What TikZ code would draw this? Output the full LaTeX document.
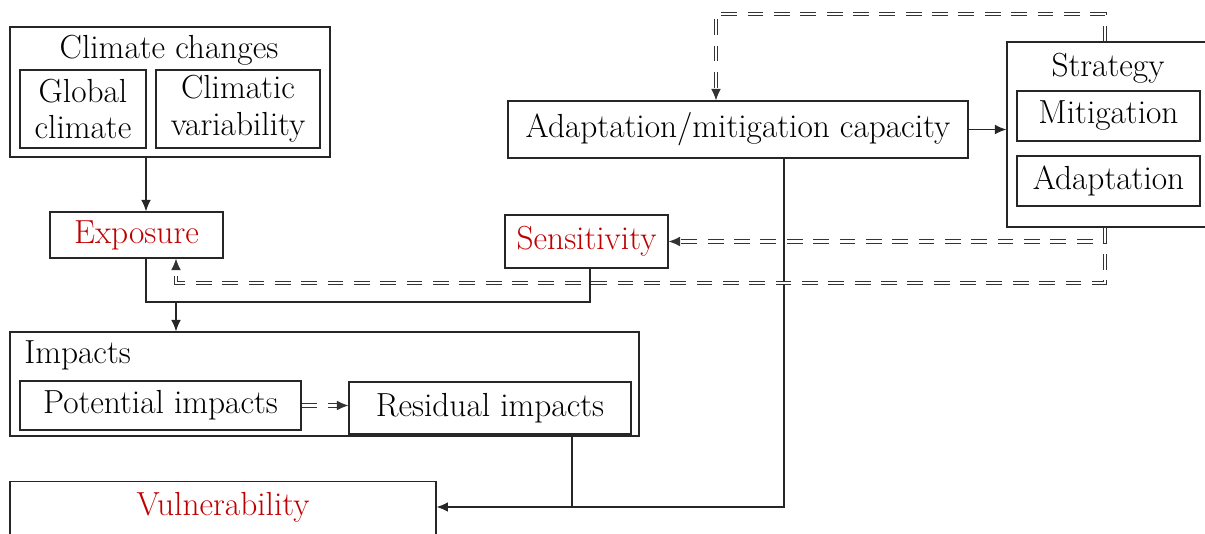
\documentclass[tikz,border=0pt]{standalone}
\usepackage{xcolor}
\usepackage{tikz}
\usetikzlibrary{arrows.meta, positioning, calc}
\definecolor{keyred}{RGB}{192,0,0}
\tikzset{
  %% plain box
  bx/.style={
    rectangle, draw=black!85, line width=0.7pt,
    inner sep=0pt, align=center,
    font=\fontsize{19}{21}\selectfont
  },
  %% bare label
  lbl/.style={inner sep=0pt, font=\fontsize{19}{21}\selectfont},
  %% solid connector
  ln/.style={draw=black!85, line width=0.7pt},
  arr/.style={-{Latex[length=6.5pt,width=5.5pt]}, draw=black!85, line width=0.7pt},
  %% dashed feedback
  dbl/.style={double=white, double distance=1.3pt, line width=0.55pt,
              draw=black!80, dash pattern=on 9pt off 6pt,
              -{Latex[length=6.5pt,width=5.5pt]}},
}
\begin{document}
\begin{tikzpicture}[x=0.02cm, y=-0.02cm]
  \useasboundingbox (0,0) rectangle (1205,534);

  %% Climate block
  \node[bx, minimum width=6.4cm, minimum height=2.6cm] (climate) at (170,92) {};
  \node[lbl] (climatet) at (169,50) {Climate changes};
  \node[bx, minimum width=2.52cm, minimum height=1.56cm] (global) at (83,109)
       {Global\\climate};
  \node[bx, minimum width=3.28cm, minimum height=1.56cm] (variab) at (238,109)
       {Climatic\\variability};

  %% Exposure / sensitivity
  \node[bx, text=keyred, minimum width=3.46cm, minimum height=0.92cm] (exposure)
       at (136.5,235) {Exposure};
  \node[bx, text=keyred, minimum width=3.26cm, minimum height=1.06cm] (sensitivity)
       at (586.5,241.5) {Sensitivity};

  %% Capacity and strategy
  \node[bx, minimum width=9.2cm, minimum height=1.14cm] (capacity) at (738,129.5)
       {Adaptation/mitigation capacity};
  \node[bx, minimum width=4.16cm, minimum height=3.7cm] (strategy) at (1111,134.5) {};
  \node[lbl] (strategyt) at (1108,68) {Strategy};
  \node[bx, minimum width=3.66cm, minimum height=1.0cm] (mitig) at (1108.5,116)
       {Mitigation};
  \node[bx, minimum width=3.66cm, minimum height=1.0cm] (adapt) at (1108.5,181)
       {Adaptation};

  %% Impacts block
  \node[bx, minimum width=12.58cm, minimum height=2.08cm] (impacts) at (324.5,384) {};
  \node[lbl, anchor=west] (impactst) at (24,355) {Impacts};
  \node[bx, minimum width=5.62cm, minimum height=0.98cm] (potential) at (160.5,405.5)
       {Potential impacts};
  \node[bx, minimum width=5.64cm, minimum height=1.04cm] (residual) at (490,408)
       {Residual impacts};

  %% Vulnerability
  \node[bx, minimum width=8.52cm, minimum height=1.28cm, anchor=north] (vuln)
       at (223,481) {};
  \node[lbl, text=keyred] (vulnt) at (223,507) {Vulnerability};

  %% helper coordinates
  \coordinate (cx) at (146,0);
  \coordinate (jn) at (176,302);
  \coordinate (sx) at (590,302);
  \coordinate (fx) at (1105,0);
  \coordinate (tp) at (716,14);
  \coordinate (lw) at (176,283);
  \coordinate (ix) at (572,0);
  \coordinate (ax) at (784,0);

  %% Solid connectors
  \draw[arr] (climate.south -| cx) -- (exposure.north -| cx);
  \draw[ln] (exposure.south -| cx) |- (sx) -- (sensitivity.south -| sx);
  \draw[arr] (jn) -- (impacts.north -| jn);
  \draw[arr] (capacity.east) -- (capacity.east -| strategy.west);
  \draw[ln] (impacts.south -| ix) -- (vulnt -| ix);
  \draw[arr] (capacity.south -| ax) |- (vulnt -| vuln.east);

  %% Dashed feedback
  \draw[dbl] (strategy.north -| fx) |- (tp) -- (capacity.north -| tp);
  \draw[dbl] (strategy.south -| fx) |- (sensitivity.east);
  \draw[dbl] (strategy.south -| fx) |- (lw) -- (exposure.south -| lw);
  \draw[dbl] (potential.east) -- (potential.east -| residual.west);

\end{tikzpicture}
\end{document}
